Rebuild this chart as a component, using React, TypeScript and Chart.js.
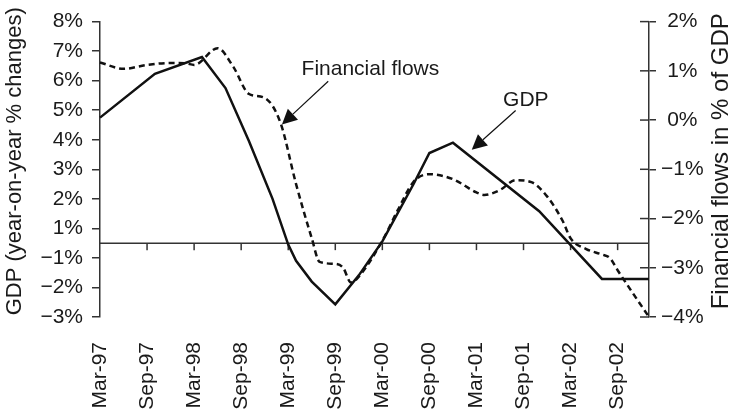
import React, { useEffect, useRef } from "react";
import { Chart, registerables } from "chart.js";

Chart.register(...registerables);

// Monthly categories, Mar-97 .. Jan-03
const MONTHS = [
  "Mar-97", "Apr-97", "May-97", "Jun-97", "Jul-97", "Aug-97", "Sep-97", "Oct-97", "Nov-97", "Dec-97",
  "Jan-98", "Feb-98", "Mar-98", "Apr-98", "May-98", "Jun-98", "Jul-98", "Aug-98", "Sep-98", "Oct-98", "Nov-98", "Dec-98",
  "Jan-99", "Feb-99", "Mar-99", "Apr-99", "May-99", "Jun-99", "Jul-99", "Aug-99", "Sep-99", "Oct-99", "Nov-99", "Dec-99",
  "Jan-00", "Feb-00", "Mar-00", "Apr-00", "May-00", "Jun-00", "Jul-00", "Aug-00", "Sep-00", "Oct-00", "Nov-00", "Dec-00",
  "Jan-01", "Feb-01", "Mar-01", "Apr-01", "May-01", "Jun-01", "Jul-01", "Aug-01", "Sep-01", "Oct-01", "Nov-01", "Dec-01",
  "Jan-02", "Feb-02", "Mar-02", "Apr-02", "May-02", "Jun-02", "Jul-02", "Aug-02", "Sep-02", "Oct-02", "Nov-02", "Dec-02",
  "Jan-03",
];

// Category labels shown on the axis
const AXIS_LABELS = [
  "Mar-97", "Sep-97", "Mar-98", "Sep-98", "Mar-99", "Sep-99",
  "Mar-00", "Sep-00", "Mar-01", "Sep-01", "Mar-02", "Sep-02",
];

// GDP (left axis units)
const GDP_MONTHS = [
  "Mar-97", "Oct-97", "Apr-98", "Jul-98", "Oct-98", "Jan-99", "Mar-99", "Apr-99", "Jun-99",
  "Sep-99", "Dec-99", "Mar-00", "Jul-00", "Sep-00", "Dec-00", "Nov-01", "Jul-02", "Jan-03",
];
const GDP_VALUES = [
  4.75, 6.23, 6.8, 5.75, 3.95, 2.0, 0.45, -0.1, -0.8,
  -1.57, -0.59, 0.56, 2.51, 3.55, 3.9, 1.58, -0.71, -0.71,
];

// Financial flows in % of GDP (right axis)
const FLOW_MONTHS = [
  "Mar-97", "Jun-97", "Sep-97", "Dec-97", "Feb-98", "Mar-98", "Jun-98", "Aug-98", "Oct-98", "Dec-98",
  "Feb-99", "Apr-99", "Jun-99", "Jul-99", "Sep-99", "Oct-99", "Nov-99", "Dec-99", "Mar-00", "May-00",
  "Jul-00", "Sep-00", "Dec-00", "Mar-01", "Apr-01", "Jun-01", "Aug-01", "Oct-01", "Dec-01", "Feb-02",
  "Mar-02", "May-02", "Jul-02", "Aug-02", "Sep-02", "Nov-02", "Jan-03",
];
const FLOW_VALUES = [
  1.17, 1.04, 1.12, 1.16, 1.15, 1.12, 1.46, 1.08, 0.53, 0.45,
  -0.05, -1.3, -2.4, -2.88, -2.92, -3.0, -3.3, -3.18, -2.45, -1.82,
  -1.25, -1.1, -1.2, -1.47, -1.52, -1.42, -1.22, -1.26, -1.55, -2.05,
  -2.4, -2.62, -2.73, -2.8, -3.05, -3.53, -4.0,
];

// Left axis tick values and their printed labels
const LEFT_TICK_VALUES = [-2, -1, 0, 1, 2, 3, 4, 5, 6, 7, 8];
const LEFT_TICK_LABELS = ["\u22123%", "\u22122%", "\u22121%", "1%", "2%", "3%", "4%", "5%", "6%", "7%", "8%"];
const RIGHT_TICK_VALUES = [-4, -3, -2, -1, 0, 1, 2];
const RIGHT_TICK_LABELS = ["\u22124%", "\u22123%", "\u22122%", "\u22121%", "0%", "1%", "2%"];

const AXIS_CROSS = 0.5; // category axis crosses the left axis here

const FONT = '"Liberation Sans", Arial, Helvetica, sans-serif';
const TEXT = "#1a1a1a";
const AXIS = "#333333";
const LINE = "#111111";

const ANNOTATIONS = [
  { text: "Financial flows", tx: 25.7, ty: 6.2, from: [29.1, 5.98], to: [23.2, 4.52] },
  { text: "GDP", tx: 51.4, ty: 5.13, from: [53.0, 4.99], to: [47.4, 3.66] },
];

function drawArrow(ctx: CanvasRenderingContext2D, x1: number, y1: number, x2: number, y2: number) {
  const ang = Math.atan2(y2 - y1, x2 - x1);
  const len = 15;
  const hw = 7.5;
  const bx = x2 - len * Math.cos(ang);
  const by = y2 - len * Math.sin(ang);
  ctx.beginPath();
  ctx.moveTo(x1, y1);
  ctx.lineTo(bx, by);
  ctx.lineWidth = 1.2;
  ctx.strokeStyle = LINE;
  ctx.stroke();
  ctx.beginPath();
  ctx.moveTo(x2, y2);
  ctx.lineTo(bx + hw * Math.sin(ang), by - hw * Math.cos(ang));
  ctx.lineTo(bx - hw * Math.sin(ang), by + hw * Math.cos(ang));
  ctx.closePath();
  ctx.fillStyle = LINE;
  ctx.fill();
}

const overlay = {
  id: "overlay",
  beforeDatasetsDraw(chart: any) {
    const { ctx, chartArea, scales } = chart;
    const x = scales.x;
    const yl = scales.y;
    const yr = scales.y1;
    ctx.save();
    const yc = yl.getPixelForValue(AXIS_CROSS);
    ctx.strokeStyle = AXIS;
    ctx.lineWidth = 1.5;
    ctx.beginPath();
    ctx.moveTo(chartArea.left, yc);
    ctx.lineTo(chartArea.right, yc);
    ctx.stroke();
    MONTHS.forEach((m, i) => {
      if (i > 0 && AXIS_LABELS.includes(m)) {
        const px = x.getPixelForValue(i);
        ctx.beginPath();
        ctx.moveTo(px, yc);
        ctx.lineTo(px, yc + 7);
        ctx.stroke();
      }
    });
    RIGHT_TICK_VALUES.forEach((v) => {
      const py = yr.getPixelForValue(v);
      ctx.beginPath();
      ctx.moveTo(chartArea.right - 9, py);
      ctx.lineTo(chartArea.right, py);
      ctx.stroke();
    });
    ctx.restore();
  },
  afterDatasetsDraw(chart: any) {
    const { ctx, scales, chartArea } = chart;
    const x = scales.x;
    const yl = scales.y;
    ctx.save();
    ctx.fillStyle = TEXT;
    ctx.font = `21px ${FONT}`;
    ctx.textAlign = "left";
    ctx.textBaseline = "alphabetic";
    ANNOTATIONS.forEach((a) => {
      ctx.fillStyle = TEXT;
      ctx.fillText(a.text, x.getPixelForValue(a.tx), yl.getPixelForValue(a.ty));
      drawArrow(
        ctx,
        x.getPixelForValue(a.from[0]), yl.getPixelForValue(a.from[1]),
        x.getPixelForValue(a.to[0]), yl.getPixelForValue(a.to[1])
      );
    });
    // axis titles (both read bottom-to-top)
    const cy = (chartArea.top + chartArea.bottom) / 2 - 8;
    ctx.fillStyle = TEXT;
    ctx.textAlign = "center";
    ctx.textBaseline = "alphabetic";
    ctx.save();
    ctx.translate(21, cy);
    ctx.rotate(-Math.PI / 2);
    ctx.font = `22px ${FONT}`;
    ctx.fillText("GDP (year-on-year % changes)", 0, 0);
    ctx.restore();
    ctx.save();
    ctx.translate(728, cy);
    ctx.rotate(-Math.PI / 2);
    ctx.font = `24px ${FONT}`;
    ctx.fillText("Financial flows in % of GDP", 0, 0);
    ctx.restore();
    ctx.restore();
  },
};

export default function App() {
  const ref = useRef<HTMLCanvasElement>(null);
  useEffect(() => {
    const gdpData = GDP_MONTHS.map((m, i) => ({ x: m, y: GDP_VALUES[i] }));
    const flowData = FLOW_MONTHS.map((m, i) => ({ x: m, y: FLOW_VALUES[i] }));
    const chart = new Chart(ref.current as HTMLCanvasElement, {
      type: "line",
      data: {
        labels: MONTHS,
        datasets: [
          {
            label: "GDP",
            data: gdpData as any,
            yAxisID: "y",
            borderColor: LINE,
            borderWidth: 2.5,
            pointRadius: 0,
            tension: 0,
            spanGaps: true,
            fill: false,
          },
          {
            label: "Financial flows",
            data: flowData as any,
            yAxisID: "y1",
            borderColor: LINE,
            borderWidth: 2.5,
            borderDash: [6, 4],
            pointRadius: 0,
            cubicInterpolationMode: "monotone",
            spanGaps: true,
            fill: false,
          },
        ],
      },
      options: {
        responsive: false,
        animation: false,
        layout: { padding: { top: 15, left: 0, right: 0, bottom: 0 } },
        plugins: { legend: { display: false }, tooltip: { enabled: false } },
        scales: {
          x: {
            type: "category",
            offset: false,
            grid: { display: false, drawTicks: false },
            border: { display: false },
            ticks: {
              autoSkip: false,
              maxRotation: 90,
              minRotation: 90,
              padding: 25,
              color: TEXT,
              font: { family: FONT, size: 21 },
              callback: (_v: any, i: number) => (AXIS_LABELS.includes(MONTHS[i]) ? MONTHS[i] : ""),
            },
            afterFit: (s: any) => {
              s.height = 96;
            },
          },
          y: {
            position: "left",
            min: -2,
            max: 8,
            afterBuildTicks: (s: any) => {
              s.ticks = LEFT_TICK_VALUES.map((v) => ({ value: v }));
            },
            grid: { drawOnChartArea: false, drawTicks: true, tickLength: 8, color: AXIS, lineWidth: 1.5 },
            border: { display: true, color: AXIS, width: 1.5 },
            ticks: {
              padding: 9,
              color: TEXT,
              font: { family: FONT, size: 21 },
              callback: (v: any) => LEFT_TICK_LABELS[LEFT_TICK_VALUES.indexOf(Number(v))],
            },
            afterFit: (s: any) => {
              s.width = 100;
            },
          },
          y1: {
            position: "right",
            min: -4,
            max: 2,
            afterBuildTicks: (s: any) => {
              s.ticks = RIGHT_TICK_VALUES.map((v) => ({ value: v }));
            },
            grid: { drawOnChartArea: false, drawTicks: true, tickLength: 7, color: AXIS, lineWidth: 1.5 },
            border: { display: true, color: AXIS, width: 1.5 },
            ticks: {
              padding: 5,
              crossAlign: "center",
              color: TEXT,
              font: { family: FONT, size: 21 },
              callback: (v: any) => RIGHT_TICK_LABELS[RIGHT_TICK_VALUES.indexOf(Number(v))],
            },
            afterFit: (s: any) => {
              s.width = 82;
            },
          },
        },
      },
      plugins: [overlay],
    });
    return () => chart.destroy();
  }, []);
  return (
    <div style={{ position: "absolute", left: 0, top: 0, width: 731, height: 413, background: "#fff" }}>
      <canvas ref={ref} width={731} height={413} style={{ display: "block" }} />
    </div>
  );
}
